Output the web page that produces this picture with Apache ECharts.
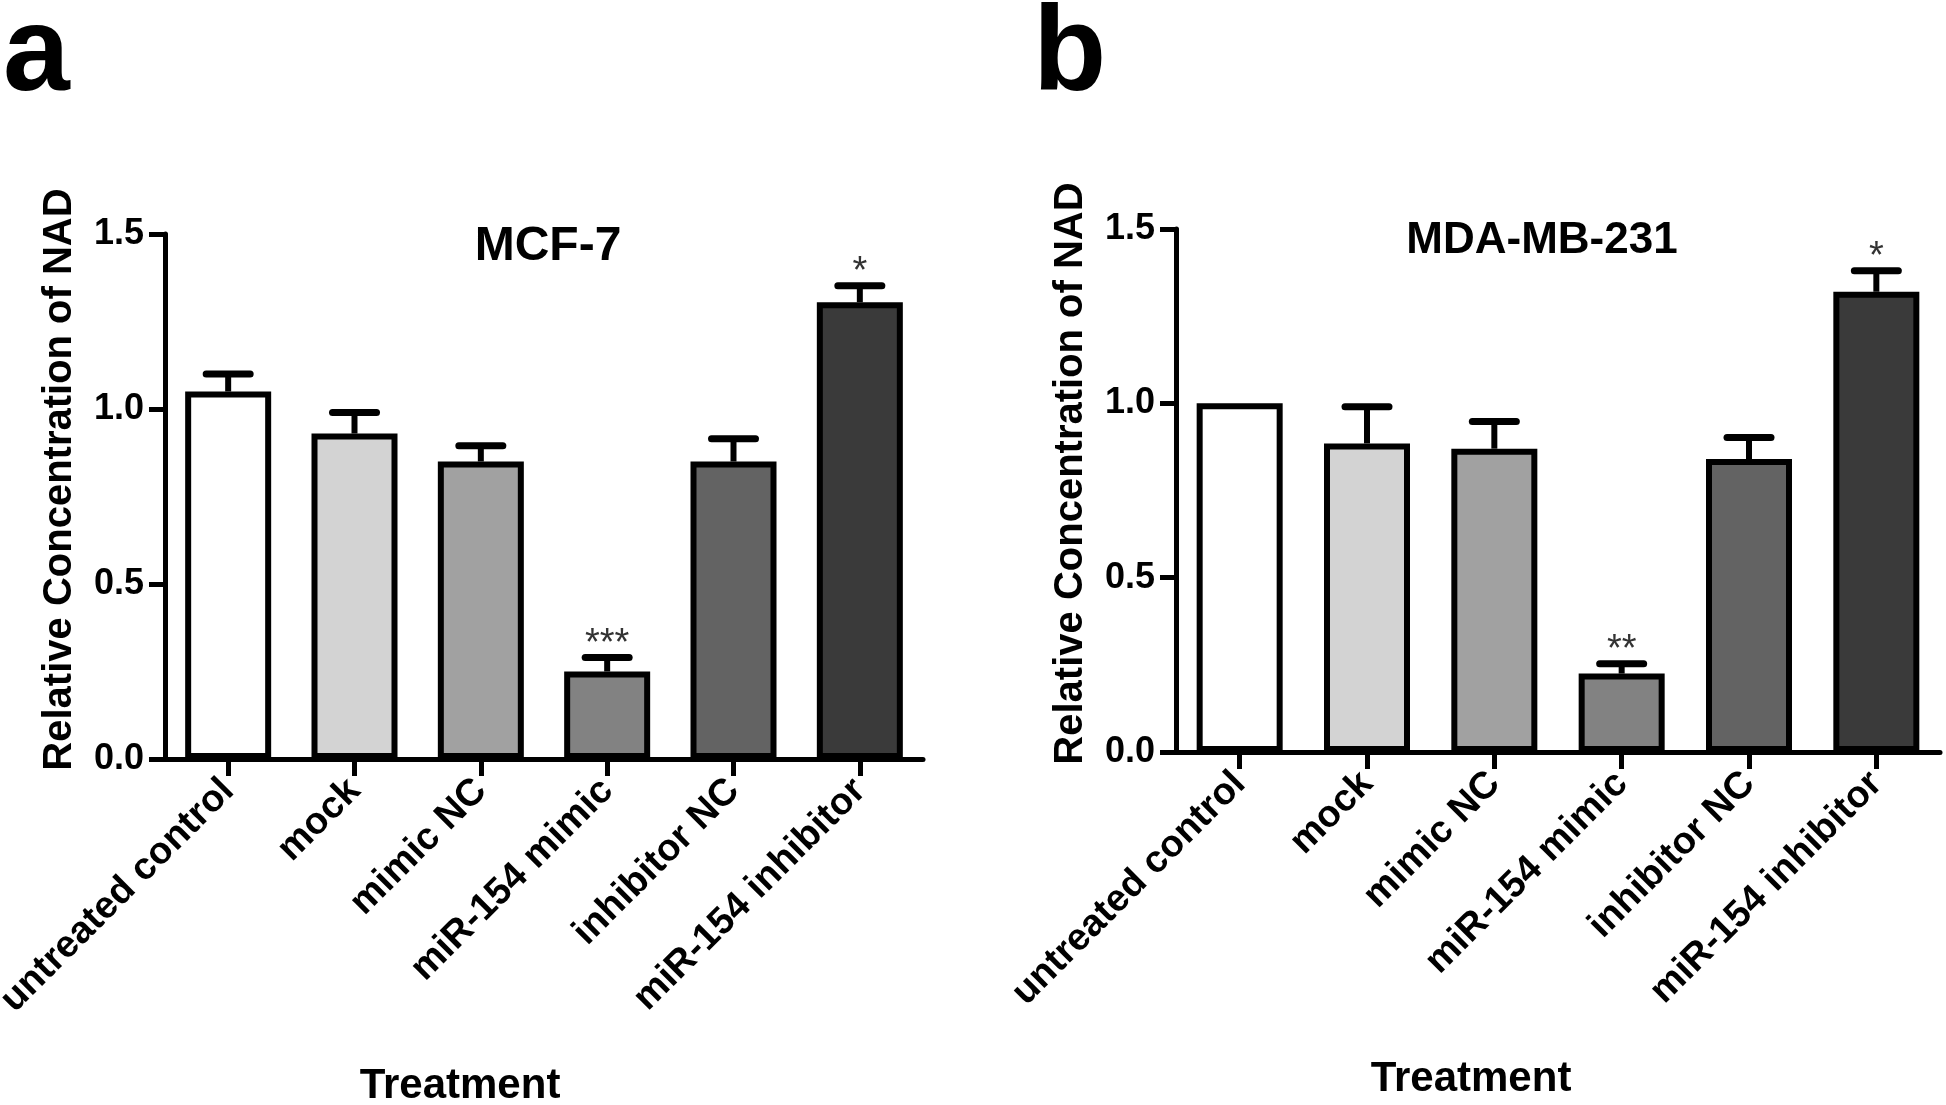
<!DOCTYPE html>
<html>
<head>
<meta charset="utf-8">
<script src="https://cdn.jsdelivr.net/npm/echarts@6/dist/echarts.min.js"></script>
<style>
html,body{margin:0;padding:0;background:#fff;}
#chart{width:1946px;height:1105px;}
</style>
</head>
<body>
<div id="chart"></div>
<script>
const categories = ['untreated control', 'mock', 'mimic NC', 'miR-154 mimic', 'inhibitor NC', 'miR-154 inhibitor'];
const barColors = ['#ffffff', '#d3d3d3', '#a1a1a1', '#828282', '#636363', '#3a3a3a'];

const mcf7Values = [1.05, 0.93, 0.85, 0.25, 0.85, 1.305];
const mcf7Errors = [0.05, 0.06, 0.045, 0.04, 0.065, 0.047];
const mcf7Stars  = ['', '', '', '***', '', '*'];

const mdaValues = [1.0, 0.885, 0.87, 0.225, 0.84, 1.32];
const mdaErrors = [0, 0.105, 0.078, 0.028, 0.062, 0.06];
const mdaStars  = ['', '', '', '**', '', '*'];

const panelTitles = ['MCF-7', 'MDA-MB-231'];
const panelLetters = ['a', 'b'];
const yAxisTitle = 'Relative Concentration of NAD';
const xAxisTitle = 'Treatment';

const FONT = "'Liberation Sans', Arial, sans-serif";

const chart = echarts.init(document.getElementById('chart'), null, {renderer: 'canvas'});

function makeErr(stars) {
  return function (params, api) {
    const x = api.value(0), v = api.value(1), e = api.value(2);
    const base = api.coord([x, v]);
    const top = api.coord([x, v + e]);
    const children = [];
    if (e > 0) {
      children.push({type: 'line', shape: {x1: base[0], y1: base[1], x2: top[0], y2: top[1]},
        style: {stroke: '#000', lineWidth: 6}});
      children.push({type: 'line', shape: {x1: top[0] - 22, y1: top[1], x2: top[0] + 22, y2: top[1]},
        style: {stroke: '#000', lineWidth: 7, lineCap: 'round'}});
    }
    const s = stars[params.dataIndex];
    if (s) {
      children.push({type: 'text', x: top[0], y: top[1] - 13,
        style: {text: s, fill: '#333', font: '38px ' + FONT, textAlign: 'center', textVerticalAlign: 'middle'}});
    }
    return {type: 'group', children: children};
  };
}

function xAx(gi, padRight) {
  return {
    type: 'category', gridIndex: gi, data: categories,
    axisLine: {lineStyle: {color: '#000', width: 5}},
    axisTick: {show: true, alignWithLabel: true, length: 17, lineStyle: {color: '#000', width: 5}},
    axisLabel: {rotate: 45, margin: 26, color: '#000', fontFamily: FONT, fontWeight: 'bold', fontSize: 38, interval: 0},
    name: xAxisTitle, nameLocation: 'middle', nameGap: 306,
    nameTextStyle: {color: '#000', fontFamily: FONT, fontWeight: 'bold', fontSize: 42, padding: [0, padRight, 0, 0]}
  };
}
function yAx(gi) {
  return {
    type: 'value', gridIndex: gi, min: 0, max: 1.5, interval: 0.5,
    axisLine: {show: true, lineStyle: {color: '#000', width: 5}},
    axisTick: {show: true, length: 16, lineStyle: {color: '#000', width: 5}},
    splitLine: {show: false},
    axisLabel: {margin: 21, color: '#000', fontFamily: FONT, fontWeight: 'bold', fontSize: 36,
      formatter: v => v.toFixed(1)},
    name: yAxisTitle, nameLocation: 'middle', nameGap: 85,
    nameTextStyle: {color: '#000', fontFamily: FONT, fontWeight: 'bold', fontSize: 40, padding: [0, 0, 0, 34]}
  };
}

function bars(xi, vals) {
  return {
    type: 'bar', xAxisIndex: xi, yAxisIndex: xi, barWidth: 86,
    data: vals.map((v, i) => ({value: v, itemStyle: {color: barColors[i]}})),
    itemStyle: {borderColor: '#000', borderWidth: 6},
    emphasis: {disabled: true}, animation: false
  };
}
function errs(xi, vals, es, stars) {
  return {
    type: 'custom', xAxisIndex: xi, yAxisIndex: xi, clip: false, z: 5,
    renderItem: makeErr(stars),
    data: vals.map((v, i) => [i, v, es[i]]), animation: false
  };
}

chart.setOption({
  backgroundColor: '#fff',
  animation: false,
  title: [
    {text: panelTitles[0], left: 543, top: 218, textAlign: 'center',
      textStyle: {fontFamily: FONT, fontWeight: 'bold', fontSize: 48, color: '#000'}},
    {text: panelTitles[1], left: 1537, top: 214, textAlign: 'center',
      textStyle: {fontFamily: FONT, fontWeight: 'bold', fontSize: 44, color: '#000'}},
    {text: panelLetters[0], left: -2, top: -8,
      textStyle: {fontFamily: FONT, fontWeight: 'bold', fontSize: 120, color: '#000'}},
    {text: panelLetters[1], left: 1028, top: -8,
      textStyle: {fontFamily: FONT, fontWeight: 'bold', fontSize: 120, color: '#000'}}
  ],
  grid: [
    {left: 165, top: 234, width: 758, height: 525, outerBoundsMode: 'none', containLabel: false},
    {left: 1176, top: 229, width: 764, height: 523, outerBoundsMode: 'none', containLabel: false}
  ],
  xAxis: [xAx(0, 168), xAx(1, 174)],
  yAxis: [yAx(0), yAx(1)],
  series: [
    bars(0, mcf7Values), errs(0, mcf7Values, mcf7Errors, mcf7Stars),
    bars(1, mdaValues), errs(1, mdaValues, mdaErrors, mdaStars)
  ]
});
</script>
</body>
</html>
